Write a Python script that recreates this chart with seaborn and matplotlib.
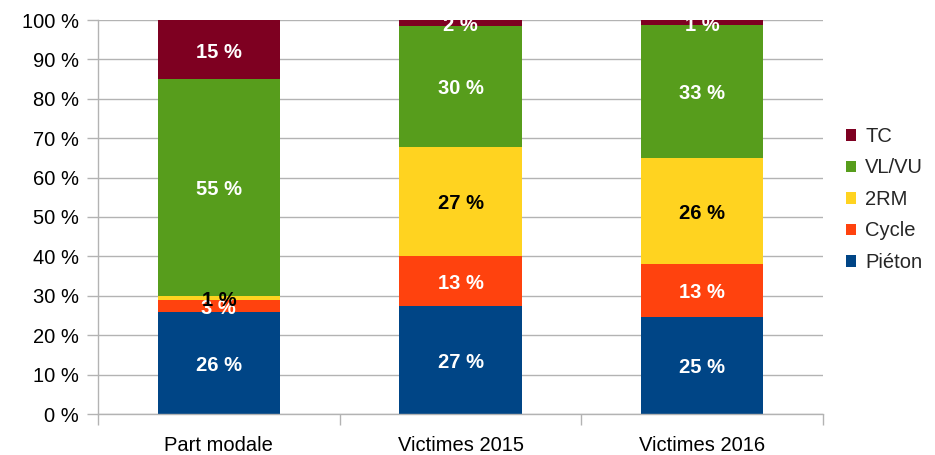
import matplotlib
matplotlib.use("Agg")
import matplotlib.pyplot as plt
import matplotlib.transforms as mtransforms
import seaborn as sns
import numpy as np
from matplotlib.patches import Patch

# ---- data ----
categories = ["Part modale", "Victimes 2015", "Victimes 2016"]
series_names = ["Piéton", "Cycle", "2RM", "VL/VU", "TC"]
pieton = [26.0, 27.5, 24.7]
cycle = [2.9, 12.6, 13.4]
deux_rm = [1.1, 27.7, 27.0]
vl_vu = [55.0, 30.8, 33.6]
tc = [15.0, 1.4, 1.3]
# displayed data labels (%)
pieton_lbl = [26, 27, 25]
cycle_lbl = [3, 13, 13]
deux_rm_lbl = [1, 27, 26]
vl_vu_lbl = [55, 30, 33]
tc_lbl = [15, 2, 1]
ytick_vals = list(range(0, 101, 10))

colors = ["#004586", "#ff420e", "#ffd320", "#579d1c", "#7e0021"]
label_colors = ["white", "white", "black", "white", "white"]

sns.set_theme(style="white")
plt.rcParams['font.family'] = ['Liberation Sans', 'DejaVu Sans']
FS = 14.5

fig = plt.figure(figsize=(9.35, 4.55), dpi=100)
ax = fig.add_axes([98/935, 1-414/455, (823-98)/935, (414-20)/455])

values = np.array([pieton, cycle, deux_rm, vl_vu, tc])
labels = [pieton_lbl, cycle_lbl, deux_rm_lbl, vl_vu_lbl, tc_lbl]
cum = np.cumsum(values, axis=0)

for k in range(len(series_names) - 1, -1, -1):
    sns.barplot(x=categories, y=cum[k], color=colors[k], saturation=1,
                width=0.505, ax=ax, linewidth=0, edgecolor="none", zorder=2)

text_tr = mtransforms.offset_copy(ax.transData, fig=fig, x=0, y=-2.5, units="dots")
for k in range(len(series_names)):
    for i in range(len(categories)):
        center = cum[k][i] - values[k][i] / 2
        ax.text(i, center, f"{labels[k][i]} %", ha="center", va="center",
                color=label_colors[k], fontsize=FS, fontweight="bold",
                clip_on=True, zorder=5, transform=text_tr)

ax.set_xlim(-0.5, 2.5)
ax.set_ylim(0, 100)
ax.set_yticks(ytick_vals)
ax.set_yticklabels([f"{v} %" for v in ytick_vals])
ax.set_xticks(range(len(categories)))
ax.set_xticklabels(categories)
ax.set_xticks([-0.5, 0.5, 1.5, 2.5], minor=True)
ax.set_xlabel("")
ax.set_ylabel("")

grid_c = "#b3b3b3"
ax.yaxis.grid(True, color=grid_c, lw=1)
ax.xaxis.grid(False)
ax.set_axisbelow(True)
for s in ["top", "right"]:
    ax.spines[s].set_visible(False)
for s in ["left", "bottom"]:
    ax.spines[s].set_color(grid_c)
    ax.spines[s].set_linewidth(1)

ax.tick_params(axis="y", which="major", length=8, width=1, color=grid_c,
               direction="out", pad=6, labelsize=FS, labelcolor="black", left=True)
ax.tick_params(axis="x", which="major", length=0, pad=16, labelsize=FS,
               labelcolor="black")
ax.tick_params(axis="x", which="minor", length=8, width=1, color=grid_c,
               direction="out", bottom=True)

handles = [Patch(facecolor=colors[k], edgecolor="none") for k in range(4, -1, -1)]
names = [series_names[k] for k in range(4, -1, -1)]
fig.legend(handles, names, loc="upper left",
           bbox_to_anchor=(846/935, 1 - 127/455), frameon=False,
           fontsize=FS, handlelength=0.5, handleheight=0.5,
           handletextpad=0.45, labelspacing=0.62, borderpad=0, borderaxespad=0)

fig.savefig("out.png", dpi=100)
